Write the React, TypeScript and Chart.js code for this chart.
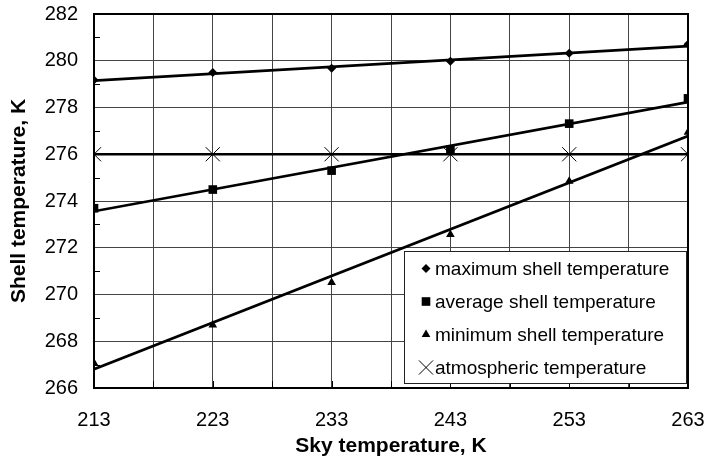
import React, { useEffect, useRef } from 'react';
import { Chart, registerables } from 'chart.js';

Chart.register(...registerables);

// ---------- data ----------
const skyTemps = [213, 223, 233, 243, 253, 263];
const maxShell = [279.18, 279.5, 279.68, 279.98, 280.32, 280.71];
const avgShell = [273.69, 274.49, 275.3, 276.2, 277.31, 278.39];
const minShell = [267.07, 268.69, 270.51, 272.57, 274.85, 276.94];
const atmTemp = [276, 276, 276, 276, 276, 276];

// linear trend lines (end points)
const trendX = [213, 263];
const maxTrend = [279.15, 280.63];
const avgTrend = [273.56, 278.23];
const minTrend = [266.8, 276.78];
const atmTrend = [276, 276];

const seriesLabels = [
  'maximum shell temperature',
  'average shell temperature',
  'minimum shell temperature',
  'atmospheric temperature',
];
const seriesMarkers = ['rectRot', 'rect', 'triangle', 'crossRot'];
const markerRadius = [4.5, 6.1, 5, 10];

const xGridValues = [213, 218, 223, 228, 233, 238, 243, 248, 253, 258, 263];
const xLabelValues = [213, 223, 233, 243, 253, 263];
const yMinorTicks = [267, 269, 271, 273, 275, 277, 279, 281];

const xTitle = 'Sky temperature, K';
const yTitle = 'Shell temperature, K';

const FONT = "'Liberation Sans', Arial, Helvetica, sans-serif";

function drawMarker(ctx: CanvasRenderingContext2D, style: string, x: number, y: number, r: number) {
  ctx.save();
  ctx.fillStyle = '#000';
  ctx.strokeStyle = '#000';
  ctx.beginPath();
  if (style === 'rectRot') {
    ctx.moveTo(x, y - r);
    ctx.lineTo(x + r, y);
    ctx.lineTo(x, y + r);
    ctx.lineTo(x - r, y);
    ctx.closePath();
    ctx.fill();
  } else if (style === 'rect') {
    const s = Math.SQRT1_2 * r;
    ctx.rect(x - s, y - s, 2 * s, 2 * s);
    ctx.fill();
  } else if (style === 'triangle') {
    const a = -Math.PI / 2;
    for (let i = 0; i < 3; i++) {
      const ang = a + (i * 2 * Math.PI) / 3;
      const px = x + Math.cos(ang) * r;
      const py = y + Math.sin(ang) * r;
      if (i === 0) ctx.moveTo(px, py);
      else ctx.lineTo(px, py);
    }
    ctx.closePath();
    ctx.fill();
  } else if (style === 'crossRot') {
    const d = Math.SQRT1_2 * r;
    ctx.lineWidth = 1;
    ctx.moveTo(x - d, y - d);
    ctx.lineTo(x + d, y + d);
    ctx.moveTo(x - d, y + d);
    ctx.lineTo(x + d, y - d);
    ctx.stroke();
  }
  ctx.restore();
}

const framePlugin = {
  id: 'frameAndLegend',
  beforeDatasetsDraw(chart: any) {
    const { ctx, chartArea: a, scales } = chart;
    ctx.save();
    // minor ticks on the axes
    ctx.strokeStyle = '#000';
    ctx.lineWidth = 1;
    ctx.beginPath();
    yMinorTicks.forEach((v) => {
      const py = Math.round(scales.y.getPixelForValue(v)) + 0.5;
      ctx.moveTo(a.left, py);
      ctx.lineTo(a.left + 6, py);
    });
    ctx.stroke();
    ctx.restore();
  },
  afterDatasetsDraw(chart: any) {
    const { ctx, chartArea: a, scales } = chart;
    ctx.save();
    // frame
    ctx.strokeStyle = '#000';
    ctx.lineWidth = 2;
    ctx.strokeRect(a.left, a.top, a.right - a.left, a.bottom - a.top);

    // x minor ticks
    ctx.lineWidth = 1;
    ctx.beginPath();
    xGridValues.forEach((v) => {
      const px = Math.round(scales.x.getPixelForValue(v)) + 0.5;
      ctx.moveTo(px, a.bottom);
      ctx.lineTo(px, a.bottom - 7);
    });
    ctx.stroke();

    // legend box
    const right = a.right - 2;
    const bottom = a.bottom - 5;
    const w = 282;
    const h = 132;
    const left = right - w;
    const top = bottom - h;
    ctx.fillStyle = '#fff';
    ctx.fillRect(left, top, w, h);
    ctx.strokeStyle = '#222';
    ctx.lineWidth = 1;
    ctx.strokeRect(Math.round(left) + 0.5, Math.round(top) + 0.5, w, h);

    ctx.font = `19px ${FONT}`;
    ctx.textBaseline = 'middle';
    ctx.textAlign = 'left';
    seriesLabels.forEach((label, i) => {
      const cy = top + 17.5 + i * 33;
      drawMarker(ctx, seriesMarkers[i], left + 22, cy, i === 3 ? 10 : markerRadius[i]);
      ctx.fillStyle = '#000';
      ctx.fillText(label, left + 31, cy + 1);
    });
    ctx.restore();
  },
};

export default function App() {
  const canvasRef = useRef<HTMLCanvasElement | null>(null);

  useEffect(() => {
    if (!canvasRef.current) return;
    const pts = (xs: number[], ys: number[]) => xs.map((x, i) => ({ x, y: ys[i] }));
    const markerSeries = [maxShell, avgShell, minShell, atmTemp];
    const trendSeries = [maxTrend, avgTrend, minTrend, atmTrend];

    const markerDatasets = markerSeries.map((ys, i) => ({
      label: seriesLabels[i],
      data: pts(skyTemps, ys),
      showLine: false,
      pointStyle: seriesMarkers[i],
      pointRadius: markerRadius[i],
      pointBackgroundColor: '#000',
      pointBorderColor: '#000',
      pointBorderWidth: i === 3 ? 1 : 0,
      order: 0,
    }));
    const trendDatasets = trendSeries.map((ys, i) => ({
      label: seriesLabels[i] + ' trend',
      data: pts(trendX, ys),
      showLine: true,
      borderColor: '#000',
      borderWidth: 2.7,
      pointRadius: 0,
      fill: false,
      order: 1,
    }));

    const chart = new Chart(canvasRef.current, {
      type: 'scatter',
      data: { datasets: [...markerDatasets, ...trendDatasets] as any },
      options: {
        animation: false,
        responsive: false,
        devicePixelRatio: 1,
        layout: { padding: { top: 14, right: 0, left: 0, bottom: 0 } },
        plugins: {
          legend: { display: false },
          tooltip: { enabled: false },
        },
        scales: {
          x: {
            type: 'linear',
            min: 213,
            max: 263,
            afterBuildTicks: (scale: any) => {
              scale.ticks = xGridValues.map((v) => ({ value: v }));
            },
            afterFit: (scale: any) => {
              scale.height = 73;
              scale.paddingLeft = 0;
              scale.paddingRight = 17;
            },
            ticks: {
              autoSkip: false,
              maxRotation: 0,
              minRotation: 0,
              padding: 20,
              color: '#000',
              font: { family: FONT, size: 20 },
              callback: (v: any) => (xLabelValues.includes(Number(v)) ? String(v) : ''),
            },
            grid: { color: '#444', lineWidth: 1, drawTicks: false },
            border: { display: true, color: '#000', width: 2 },
            title: {
              display: true,
              text: xTitle,
              color: '#000',
              font: { family: FONT, size: 21, weight: 'bold' },
              padding: { top: 0, bottom: 2 },
            },
          },
          y: {
            type: 'linear',
            min: 266,
            max: 282,
            afterFit: (scale: any) => {
              scale.width = 94;
              scale.paddingTop = 0;
              scale.paddingBottom = 0;
            },
            ticks: {
              stepSize: 2,
              padding: 16,
              color: '#000',
              font: { family: FONT, size: 20 },
            },
            grid: { color: '#444', lineWidth: 1, drawTicks: false },
            border: { display: true, color: '#000', width: 2 },
            title: {
              display: true,
              text: yTitle,
              color: '#000',
              font: { family: FONT, size: 21, weight: 'bold' },
              padding: { top: 7, bottom: 0 },
            },
          },
        },
      } as any,
      plugins: [framePlugin],
    });
    return () => chart.destroy();
  }, []);

  return (
    <div style={{ position: 'absolute', left: 0, top: 0, width: 705, height: 461, background: '#fff' }}>
      <canvas ref={canvasRef} width={705} height={461} />
    </div>
  );
}
